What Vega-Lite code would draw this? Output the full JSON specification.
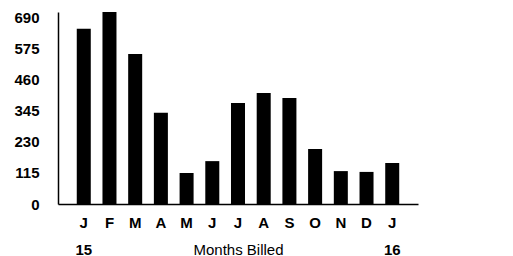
{
  "$schema": "https://vega.github.io/schema/vega-lite/v6.json",
  "width": 360,
  "height": 192,
  "autosize": {"type": "none"},
  "padding": {"left": 58, "top": 12, "right": 95, "bottom": 52},
  "background": "white",
  "config": {"view": {"stroke": null}, "font": "Liberation Sans"},
  "data": {
    "values": [
      {"month": "Jan 15", "value": 650},
      {"month": "Feb", "value": 712},
      {"month": "Mar", "value": 556},
      {"month": "Apr", "value": 338},
      {"month": "May", "value": 115},
      {"month": "Jun", "value": 159},
      {"month": "Jul", "value": 375},
      {"month": "Aug", "value": 412},
      {"month": "Sep", "value": 393},
      {"month": "Oct", "value": 204},
      {"month": "Nov", "value": 122},
      {"month": "Dec", "value": 119},
      {"month": "Jan 16", "value": 152}
    ]
  },
  "mark": {"type": "bar", "color": "#000000"},
  "encoding": {
    "x": {
      "field": "month",
      "type": "nominal",
      "sort": null,
      "scale": {"paddingInner": 0.455, "paddingOuter": 0.73},
      "axis": {
        "title": "Months Billed",
        "titleFont": "Liberation Sans",
        "titleFontSize": 15,
        "titleFontWeight": "normal",
        "titleColor": "#000000",
        "titleY": 50,
        "titleBaseline": "alphabetic",
        "labelExpr": "[slice(datum.value,0,1), slice(datum.value,4)]",
        "labelAngle": 0,
        "labelFontSize": 15,
        "labelFontWeight": "bold",
        "labelColor": "#000000",
        "labelBaseline": "top",
        "labelLineHeight": 27,
        "labelPadding": 11,
        "ticks": false,
        "domainColor": "#000000",
        "domainWidth": 1.5
      }
    },
    "y": {
      "field": "value",
      "type": "quantitative",
      "scale": {"domain": [0, 712], "nice": false},
      "axis": {
        "title": null,
        "values": [0, 115, 230, 345, 460, 575, 690],
        "grid": false,
        "ticks": false,
        "labelPadding": 19,
        "labelFontSize": 15,
        "labelFontWeight": "bold",
        "labelColor": "#000000",
        "domainColor": "#000000",
        "domainWidth": 1.5
      }
    }
  }
}
